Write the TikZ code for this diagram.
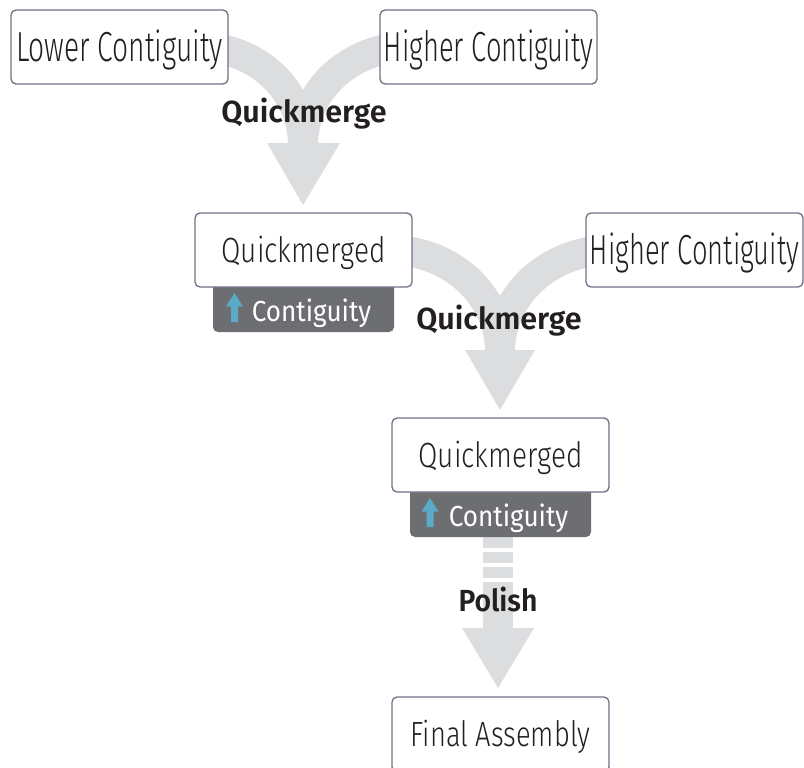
\documentclass[tikz,border=0pt]{standalone}
\usepackage{fontspec}
\usepackage{graphicx}
\setmainfont{Fira Sans}
\newfontfamily\lightf{Fira Sans Light}
\newfontfamily\boldf{Fira Sans SemiBold}
\definecolor{bandgray}{HTML}{DCDDDF}
\definecolor{boxline}{HTML}{707085}
\definecolor{tabgray}{HTML}{6D6E71}
\definecolor{upblue}{HTML}{5AAAC8}
\definecolor{txt}{HTML}{231F20}
\newcommand{\bigtxt}[2][0.67]{\scalebox{#1}[1]{\lightf\fontsize{42}{42}\selectfont #2}}
\newcommand{\smalltxt}[2][0.8]{\scalebox{#1}[1]{\lightf\fontsize{35}{35}\selectfont #2}}
\begin{document}
\begin{tikzpicture}[x=1pt,y=1pt,
  band/.style={draw=bandgray, line width=30pt},
  headtri/.style={fill=bandgray},
  box/.style={draw=boxline, line width=1.3pt, fill=white, rounded corners=5pt,
    minimum width=217pt, minimum height=74pt, inner sep=0pt, text=txt},
  bigbox/.style={box, text height=29pt, text depth=0pt},
  smallbox/.style={box, text height=24pt, text depth=0pt},
  tab/.style={fill=tabgray, rounded corners=5pt, minimum width=181pt, minimum height=53pt, inner sep=0pt},
  tabtext/.style={anchor=base, text=white, inner sep=0pt, font=\fontsize{29}{29}\selectfont},
  lbl/.style={anchor=base, text=txt, inner sep=0pt, font=\boldf\fontsize{30.5}{30.5}\selectfont},
  uparrow/.pic={\fill[upblue] (-3.5,-14.5) -- (-3.5,1) -- (-8.5,1) -- (0,14.5) -- (8.5,1) -- (3.5,1) -- (3.5,-14.5) -- cycle;}
]
\useasboundingbox (0,0) rectangle (804,-768);

% coordinates of merge points
\coordinate (m1) at (303,-145);
\coordinate (m2) at (500,-352);
\coordinate (m3a) at (498,-537);
\coordinate (m3b) at (498,-583);
\coordinate (m3) at (498,-630);

% bands (drawn before boxes)
\draw[band] (200,-47) to[out=0,in=90] (m1);
\draw[band] (408,-47) to[out=180,in=90] (m1);
\fill[headtri] (267,-143) -- (340,-143) -- (303,-205) -- cycle;

\draw[band] (390,-250) to[out=0,in=90] (m2);
\draw[band] (610,-250) to[out=180,in=90] (m2);
\fill[headtri] (465,-350) -- (535,-350) -- (500,-410) -- cycle;

\draw[band, dash pattern=on 10.5pt off 4.5pt] (m3a) -- (m3b);
\draw[band] (m3b) -- (m3);
\fill[headtri] (462,-628) -- (534,-628) -- (498,-688) -- cycle;

% tabs (under boxes)
\node[tab] (t3) at (303.5,-305.5) {};
\node[tab] (t5) at (500.5,-510.5) {};

% boxes
\node[bigbox] (b1) at (119.5,-47) {\bigtxt{Lower Contiguity}};
\node[bigbox] (b2) at (488.5,-47) {\bigtxt[0.65]{Higher Contiguity}};
\node[smallbox] (b3) at (303.5,-250) {\smalltxt{Quickmerged}};
\node[bigbox] (b4) at (694.5,-250) {\bigtxt[0.65]{Higher Contiguity}};
\node[smallbox] (b5) at (500.5,-455) {\smalltxt{Quickmerged}};
\node[smallbox, minimum height=75pt] (b6) at (500.5,-734.5) {\smalltxt[0.78]{Final Assembly}};

% tab contents
\node[tabtext] (t3txt) at (311.5,-321) {\scalebox{0.9}[1]{Contiguity}};
\pic at (234.5,-307.5) {uparrow};
\node[tabtext] (t5txt) at (508.5,-526) {\scalebox{0.9}[1]{Contiguity}};
\pic at (430,-512.5) {uparrow};

% labels
\node[lbl] (q1) at (304,-122.5) {Quickmerge};
\node[lbl] (q2) at (499,-329) {Quickmerge};
\node[lbl] (p1) at (498,-611) {\scalebox{0.93}[1]{Polish}};
\end{tikzpicture}
\end{document}
